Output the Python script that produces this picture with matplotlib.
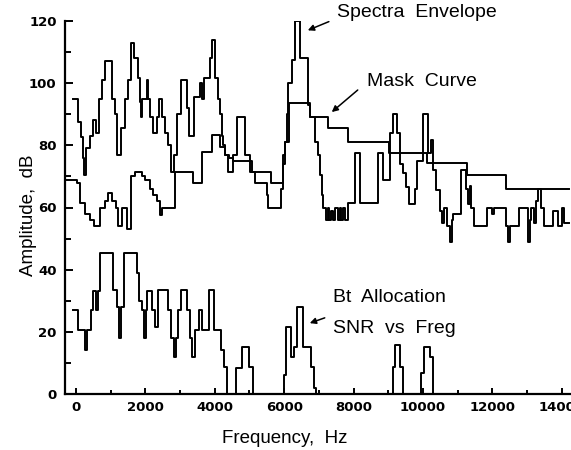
import matplotlib.pyplot as plt
from matplotlib.ticker import MultipleLocator

# --- data (step curves, Hz -> dB) ---
env_f = [-100, 60, 140, 200, 230, 290, 400, 490, 580, 660, 750, 840, 1040, 1120, 1180,
         1300, 1410, 1500, 1580, 1680, 1780, 1840, 1870, 1900, 2040, 2080, 2130, 2220,
         2330, 2400, 2480, 2560, 2650, 2740, 2830, 2920, 3040, 3200, 3260, 3400, 3570,
         3640, 3680, 3850, 3920, 4020, 4080, 4150, 4200, 4240, 4300, 4380, 4520, 4640,
         4870, 5010, 5150, 5500, 5530, 5900, 5960, 6020, 6070, 6110, 6220, 6310, 6450,
         6680, 6740, 6880, 6970, 7030, 7085, 7120, 7200, 7260, 7300, 7360, 7420, 7480,
         7540, 7600, 7650, 7700, 7760, 7830, 8040, 8190, 8700, 8840, 9040, 9130, 9240,
         9330, 9420, 9500, 9590, 9760, 9830, 9990, 10140, 10230, 10290, 10380, 10480,
         10560, 10620, 10700, 10780, 10830, 10860, 11110, 11250, 11300, 11350, 11400,
         11460, 11840, 12000, 12060, 12410, 12450, 12500, 12760, 13030, 13080, 13130,
         13200, 13250, 13330, 13400, 13480, 13740, 13900, 14000, 14080, 14200]
env_db = [95, 87.5, 82.7, 76, 70.5, 79, 83, 88, 84, 95, 101, 107, 95, 90, 77,
          85.6, 95, 101, 113, 108, 101.7, 94, 89, 95, 101, 95, 89, 84,
          89, 95, 89, 84, 80, 71.4, 77, 90, 101, 92, 83, 95.5, 100,
          95, 101.7, 108, 114, 101.7, 95, 90, 83, 80, 77, 71.4, 77, 89,
          77, 71.4, 68, 64, 60, 66, 74, 81, 90, 100, 107.5, 120, 108,
          93, 89, 81, 77, 70.5, 64, 60, 56, 60, 56, 59, 56, 60,
          56, 60, 56, 60, 56, 61.5, 77.5, 61.5, 77.5, 69, 84, 90, 84,
          74, 71, 66.6, 61, 66, 75, 90, 77.5, 81.7, 72, 65.6, 59,
          55, 60, 54, 49, 56, 58, 72, 66, 61, 67, 60,
          54, 60, 58, 60, 54, 49, 54, 60, 49, 56, 60,
          55, 62, 66, 60, 54, 59, 54, 60, 55, 55]

mask_f = [-300, 30, 110, 260, 400, 520, 690, 840, 920, 1040, 1150, 1210, 1330, 1470,
          1580, 1700, 1900, 1990, 2130, 2220, 2330, 2420, 2480, 2850, 3370, 3630, 3920,
          4150, 4290, 4410, 4520, 5070, 5620, 5960, 6020, 6140, 6740, 7260, 7830, 9010,
          10120, 11260, 12410, 14200]
mask_db = [69, 68, 61.5, 58, 56, 54, 60, 62, 64.6, 62, 60, 54, 60, 53,
           70, 71.4, 70, 69, 66, 64, 62, 57.6, 60, 71.4, 68, 78, 83.3,
           79.5, 77, 76, 75, 71.4, 68, 77, 81, 93.6, 89, 85.6, 81, 77.5,
           74.3, 70.5, 66, 66]

bits_f = [-100, 60, 250, 310, 430, 490, 580, 640, 700, 1070, 1180, 1240, 1300, 1380,
          1760, 1820, 1900, 1960, 2020, 2060, 2190, 2280, 2360, 2650, 2740, 2820, 2880,
          2940, 3030, 3200, 3290, 3340, 3430, 3540, 3630, 3820, 3980, 4180, 4260, 4350,
          4610, 4780, 4980, 5100, 5990, 6050, 6190, 6280, 6360, 6540, 6770, 6860, 6920,
          9130, 9190, 9330, 9420, 9960, 10020, 10200, 10280, 14200]
bits_db = [27, 20.6, 14, 20.6, 27, 33, 27, 33, 45.4, 33.5, 28, 18, 28, 45.4,
           39, 30, 27, 18, 27, 33, 27, 21.6, 33.5, 27, 18, 12, 18,
           27, 33.5, 27, 18, 12, 20.6, 27, 20.6, 33.5, 20.6, 14, 8.7, 0,
           8.4, 15, 8.7, 0, 6, 21.6, 12, 15, 28, 15, 8.7, 2, 0,
           8.7, 15.8, 8.7, 0, 6.7, 15, 12, 0, 0]

fig = plt.figure(figsize=(5.71, 4.5), dpi=100)
ax = fig.add_axes([65 / 571, 56 / 450, 506 / 571, 373 / 450])

for f, v in [(env_f, env_db), (mask_f, mask_db), (bits_f, bits_db)]:
    ax.step(f, v, where='post', color='black', lw=1.4)

ax.set_xlim(-317, 14270)
ax.set_ylim(0, 120)
ax.spines['top'].set_visible(False)
ax.spines['right'].set_visible(False)
ax.spines['left'].set_linewidth(1.6)
ax.spines['bottom'].set_linewidth(1.6)

ax.xaxis.set_major_locator(MultipleLocator(2000))
ax.xaxis.set_minor_locator(MultipleLocator(1000))
ax.yaxis.set_major_locator(MultipleLocator(20))
ax.yaxis.set_minor_locator(MultipleLocator(10))
ax.tick_params(which='both', direction='in', width=1.4)
ax.tick_params(axis='y', which='major', length=6, pad=6)
ax.tick_params(axis='y', which='minor', length=4)
ax.tick_params(axis='x', which='major', length=4, pad=5)
ax.tick_params(axis='x', which='minor', length=3)

tick_font = ['Liberation Sans Narrow', 'DejaVu Sans']
for lab in ax.get_xticklabels() + ax.get_yticklabels():
    lab.set_family(tick_font)
    lab.set_fontweight('bold')
    lab.set_fontsize(9.5)

label_font = ['Liberation Sans', 'DejaVu Sans']
ax.set_xlabel('Frequency,  Hz', family=label_font, fontsize=13.5)
ax.xaxis.set_label_coords(0.435, -0.118)
ax.xaxis.label.set_va('center')
ax.set_ylabel('Amplitude,  dB', family=label_font, fontsize=13.5)
ax.yaxis.set_label_coords(-0.073, 0.48)
ax.yaxis.label.set_va('center')

arrow = dict(arrowstyle='-|>', color='black', lw=1.1, mutation_scale=9, shrinkA=0, shrinkB=0)

ax.text(7517, 122.6, 'Spectra  Envelope', family=label_font, fontsize=14, va='center')
ax.annotate('', xy=(6682, 117), xytext=(7290, 119.8), arrowprops=arrow)

ax.text(8381, 100.4, 'Mask  Curve', family=label_font, fontsize=14, va='center')
ax.annotate('', xy=(7373, 90.7), xytext=(8122, 97.8), arrowprops=arrow)

ax.text(7402, 30.9, 'Bt  Allocation', family=label_font, fontsize=14, va='center')
ax.text(7402, 21.2, 'SNR  vs  Freg', family=label_font, fontsize=14, va='center')
ax.annotate('', xy=(6739, 22.8), xytext=(7171, 24.5), arrowprops=arrow)

fig.savefig('out.png', dpi=100)
